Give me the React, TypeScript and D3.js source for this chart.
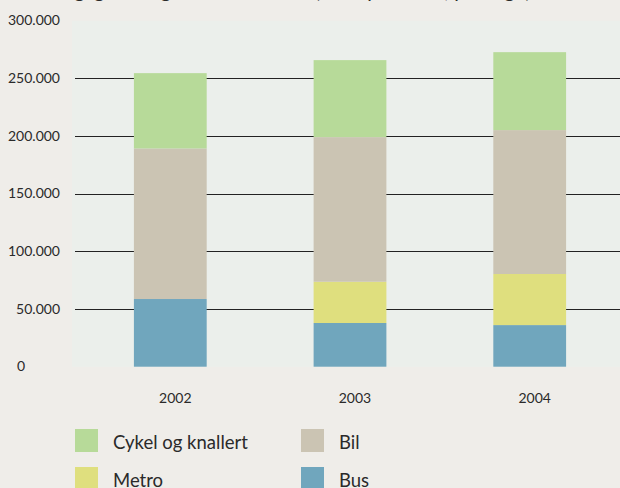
import React from "react";
import * as d3 from "d3";

const years = ["2002", "2003", "2004"];
const series = ["Bus", "Metro", "Bil", "Cykel og knallert"];
const bus = [58700, 37900, 36100];
const metro = [0, 35800, 44300];
const bil = [130600, 125400, 124800];
const cykel = [65300, 66800, 67600];
const yTicks = [0, 50000, 100000, 150000, 200000, 250000, 300000];
const yTickLabels = ["0", "50.000", "100.000", "150.000", "200.000", "250.000", "300.000"];
const legendOrder = ["Cykel og knallert", "Bil", "Metro", "Bus"];
const colors: Record<string, string> = {
  "Bus": "#70a6bd",
  "Metro": "#dfdf7e",
  "Bil": "#cbc4b3",
  "Cykel og knallert": "#b7da99",
};
const title = "Daglig trafik gennem området (antal personer, pr. døgn)";

const W = 620;
const H = 488;
const font = "Lato, 'Open Sans', sans-serif";

function drawChart(svgRef: React.RefObject<SVGSVGElement | null>) {
  const svg = d3.select(svgRef.current);
  svg.selectAll("*").remove();
  svg.attr("width", W).attr("height", H);

  svg.append("rect").attr("width", W).attr("height", H).attr("fill", "#efede9");

  const rows = years.map((y, i) => ({
    year: y,
    "Bus": bus[i],
    "Metro": metro[i],
    "Bil": bil[i],
    "Cykel og knallert": cykel[i],
  }));
  const stacked = d3.stack<any>().keys(series)(rows);

  const y = d3.scaleLinear().domain([0, 300000]).range([366.7, 20.8]);
  const x = d3.scaleBand().domain(years).range([80, 620]).paddingInner(0.595).paddingOuter(0.3);

  // plot background
  svg.append("rect")
    .attr("x", 72).attr("y", y(300000))
    .attr("width", W - 72).attr("height", y(0) - y(300000))
    .attr("fill", "#ebefeb");

  // gridlines (not at 0 and 300.000)
  svg.append("g")
    .selectAll("line")
    .data(yTicks.filter(t => t > 0 && t < 300000))
    .join("line")
    .attr("x1", 75).attr("x2", W)
    .attr("y1", d => Math.round(y(d)) + 0.5)
    .attr("y2", d => Math.round(y(d)) + 0.5)
    .attr("stroke", "#222")
    .attr("stroke-width", 1);

  // y labels
  svg.append("g")
    .selectAll("text")
    .data(yTicks)
    .join("text")
    .attr("x", d => (d === 0 ? 21 : 60))
    .attr("y", d => y(d) + 4.5)
    .attr("text-anchor", d => (d === 0 ? "middle" : "end"))
    .attr("font-family", font)
    .attr("font-size", 14)
    .attr("fill", "#2a2a2a")
    .text((d, i) => yTickLabels[i]);

  // bars
  svg.append("g")
    .selectAll("g")
    .data(stacked)
    .join("g")
    .attr("fill", d => colors[d.key])
    .selectAll("rect")
    .data(d => d)
    .join("rect")
    .attr("x", d => x(d.data.year)!)
    .attr("width", x.bandwidth())
    .attr("y", d => y(d[1]))
    .attr("height", d => y(d[0]) - y(d[1]));

  // x labels
  svg.append("g")
    .selectAll("text")
    .data(years)
    .join("text")
    .attr("x", d => x(d)! + x.bandwidth() / 2 + 5)
    .attr("y", 402.5)
    .attr("text-anchor", "middle")
    .attr("font-family", font)
    .attr("font-size", 14)
    .attr("fill", "#2a2a2a")
    .text(d => d);

  // legend
  const leg = svg.append("g")
    .selectAll("g")
    .data(legendOrder)
    .join("g")
    .attr("transform", (d, i) => `translate(${75 + (i % 2) * 226},${429 + Math.floor(i / 2) * 38})`);
  leg.append("rect").attr("width", 23).attr("height", 23).attr("fill", d => colors[d]);
  leg.append("text")
    .attr("x", 38).attr("y", 20)
    .attr("font-family", font)
    .attr("font-size", 18.5)
    .attr("fill", "#2a2a2a")
    .text(d => d);

  // title, cut off at top
  svg.append("text")
    .attr("x", 290).attr("y", -2.5)
    .attr("text-anchor", "middle")
    .attr("font-family", font)
    .attr("font-size", 20)
    .attr("fill", "#2a2a2a")
    .text(title);
}

export default function App() {
  const ref = React.useRef<SVGSVGElement>(null);
  React.useEffect(() => {
    drawChart(ref);
  }, []);
  return <svg ref={ref} style={{ position: "absolute", left: 0, top: 0 }} />;
}
